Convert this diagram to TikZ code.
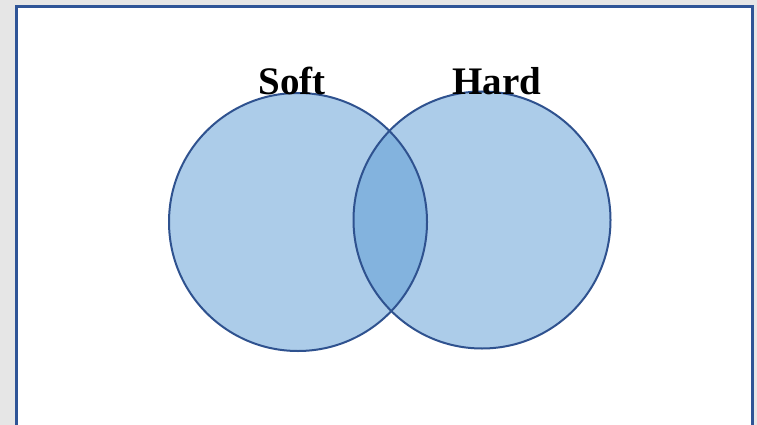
\documentclass[tikz,border=0pt]{standalone}
\usepackage{fontspec}
\setmainfont{Liberation Serif}
\definecolor{frameblue}{RGB}{47,85,151}
\definecolor{setblue}{RGB}{91,155,213}
\definecolor{edgeblue}{RGB}{47,82,143}
\definecolor{pagegray}{RGB}{230,230,230}
\tikzset{set/.style={circle,draw=none,fill=setblue,fill opacity=0.5,inner sep=0pt}}
\tikzset{ring/.style={circle,draw=edgeblue,line width=2pt,inner sep=0pt}}
\tikzset{lbl/.style={anchor=base,inner sep=0pt,font=\fontsize{39}{40}\selectfont\bfseries}}

\begin{document}
\begin{tikzpicture}[x=1pt,y=-1pt]
      \useasboundingbox (0,0) rectangle (757,425);
      \fill[pagegray] (0,0) rectangle (757,425);
      \draw[frameblue,line width=3pt,fill=white] (16,7) rectangle (752,440);
      \node[set,minimum size=258pt] (soft) at (298,222) {};
      \node[set,minimum size=257pt] (hard) at (482,220) {};
      \node[ring,minimum size=258pt] (softring) at (soft) {};
      \node[ring,minimum size=257pt] (hardring) at (hard) {};
      \node[lbl] (softlbl) at (292,95) {Soft};
      \node[lbl] (hardlbl) at (497,95) {Hard};
    \end{tikzpicture}
\end{document}
